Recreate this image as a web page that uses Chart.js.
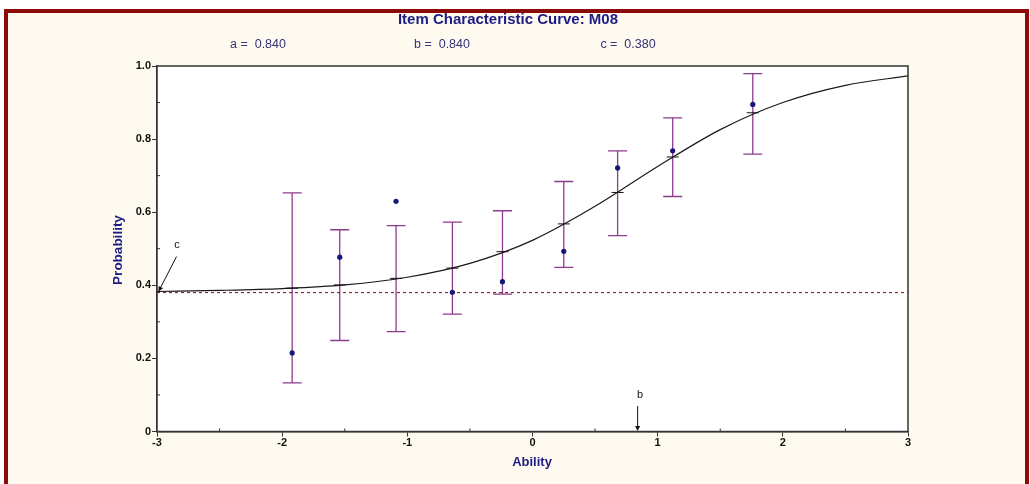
<!DOCTYPE html>
<html>
<head>
<meta charset="utf-8">
<title>Item Characteristic Curve: M08</title>
<script src="https://cdn.jsdelivr.net/npm/chart.js@4.4.1/dist/chart.umd.min.js"></script>
<style>
  html, body { margin: 0; padding: 0; background: #fff; }
  body { width: 1030px; height: 484px; overflow: hidden; position: relative; }
  #frame {
    position: absolute; left: 4px; top: 9px;
    width: 1017px; height: 520px;
    border: 4px solid #8b0a0a;
    background: #fefaef;
  }
  #wrap { position: absolute; left: 0; top: 0; width: 1030px; height: 484px; }
</style>
</head>
<body>
<div id="frame"></div>
<div id="wrap"><canvas id="icc" width="1030" height="484"></canvas></div>
<script>
// Item parameters
const paramLabels = ['a =  0.840', 'b =  0.840', 'c =  0.380'];
const cValue = 0.38;
const bValue = 0.84;

// Ability groups: observed proportion, model value and error bar range
const abilityGroups = [-1.92, -1.54, -1.09, -0.64, -0.24, 0.25, 0.68, 1.12, 1.76];
const observed = [0.215, 0.477, 0.630, 0.381, 0.410, 0.493, 0.721, 0.768, 0.895];
const expected = [0.392, 0.401, 0.419, 0.447, 0.492, 0.568, 0.654, 0.751, 0.872];
const errLow = [0.133, 0.249, 0.273, 0.321, 0.376, 0.449, 0.536, 0.643, 0.759];
const errHigh = [0.653, 0.552, 0.563, 0.573, 0.604, 0.684, 0.768, 0.858, 0.979];

// Characteristic curve
const curveAbility = [-3, -2.5, -2, -1.5, -1, -0.5, 0, 0.5, 1, 1.5, 2, 2.5, 3];
const curveProb = [0.383, 0.386, 0.391, 0.401, 0.422, 0.460, 0.523, 0.616, 0.725, 0.826, 0.900, 0.947, 0.973];

// Axis ticks
const xTicks = [-3, -2, -1, 0, 1, 2, 3];
const yTicks = [0, 0.2, 0.4, 0.6, 0.8, 1.0];

const FONT = '"Liberation Sans", Arial, sans-serif';
const NAVY = '#1c1c84';
const BAR = '#8e3a8e';

// White plot area, box, error bars, small marks and texts
const iccPlugin = {
  id: 'icc',
  beforeDatasetsDraw(chart) {
    const { ctx, chartArea: a, scales: { x, y } } = chart;
    ctx.save();
    ctx.fillStyle = '#ffffff';
    ctx.fillRect(a.left, a.top, a.right - a.left, a.bottom - a.top);

    // error bars
    ctx.strokeStyle = BAR;
    ctx.lineWidth = 1.3;
    abilityGroups.forEach((t, i) => {
      const px = x.getPixelForValue(t);
      const top = y.getPixelForValue(errHigh[i]);
      const bot = y.getPixelForValue(errLow[i]);
      ctx.beginPath();
      ctx.moveTo(px, top); ctx.lineTo(px, bot);
      ctx.moveTo(px - 9.5, top); ctx.lineTo(px + 9.5, top);
      ctx.moveTo(px - 9.5, bot); ctx.lineTo(px + 9.5, bot);
      ctx.stroke();
    });
    ctx.restore();
  },
  afterDatasetsDraw(chart) {
    const { ctx, chartArea: a, scales: { x, y } } = chart;
    ctx.save();
    // model value marks on the curve
    ctx.strokeStyle = '#111';
    ctx.lineWidth = 1;
    abilityGroups.forEach((t, i) => {
      const px = x.getPixelForValue(t);
      const py = y.getPixelForValue(expected[i]);
      ctx.beginPath();
      ctx.moveTo(px - 6, py); ctx.lineTo(px + 6, py);
      ctx.stroke();
    });

    // box
    ctx.strokeStyle = '#333';
    ctx.lineWidth = 1.5;
    ctx.strokeRect(a.left, a.top, a.right - a.left, a.bottom - a.top);

    // minor ticks, inside
    ctx.lineWidth = 1;
    ctx.beginPath();
    for (let v = -2.5; v < 3; v += 1) {
      const px = x.getPixelForValue(v);
      ctx.moveTo(px, a.bottom); ctx.lineTo(px, a.bottom - 3);
    }
    for (let v = 0.1; v < 1; v += 0.2) {
      const py = y.getPixelForValue(v);
      ctx.moveTo(a.left, py); ctx.lineTo(a.left + 3, py);
    }
    ctx.stroke();

    // c annotation
    const cx = x.getPixelForValue(-3), cy = y.getPixelForValue(cValue);
    ctx.strokeStyle = '#111';
    ctx.fillStyle = '#111';
    ctx.beginPath();
    ctx.moveTo(cx + 19.5, cy - 36); ctx.lineTo(cx + 2, cy - 2);
    ctx.stroke();
    arrowHead(ctx, cx + 19.5, cy - 36, cx + 1.5, cy - 1);
    ctx.font = '11px ' + FONT;
    ctx.textAlign = 'center';
    ctx.textBaseline = 'middle';
    ctx.fillText('c', cx + 20, cy - 48);

    // b annotation
    const bx = x.getPixelForValue(bValue), by = y.getPixelForValue(0);
    ctx.beginPath();
    ctx.moveTo(bx, by - 25.5); ctx.lineTo(bx, by - 3);
    ctx.stroke();
    arrowHead(ctx, bx, by - 25.5, bx, by - 0.5);
    ctx.fillText('b', bx + 2.5, by - 36.5);

    // titles
    ctx.fillStyle = NAVY;
    ctx.font = 'bold 15px ' + FONT;
    ctx.fillText('Item Characteristic Curve: M08', 508, 20);
    ctx.font = '12.5px ' + FONT;
    ctx.fillStyle = '#34347a';
    [258, 442, 628].forEach((px, i) => ctx.fillText(paramLabels[i], px, 44.5));
    ctx.fillStyle = NAVY;
    ctx.font = 'bold 13px ' + FONT;
    ctx.fillText('Ability', 532, 462);
    ctx.translate(118, 250);
    ctx.rotate(-Math.PI / 2);
    ctx.font = 'bold 13.5px ' + FONT;
    ctx.fillText('Probability', 0, 0);
    ctx.restore();
  }
};

function arrowHead(ctx, x0, y0, x1, y1) {
  const ang = Math.atan2(y1 - y0, x1 - x0);
  ctx.beginPath();
  ctx.moveTo(x1, y1);
  ctx.lineTo(x1 - 5 * Math.cos(ang) + 2.5 * Math.sin(ang), y1 - 5 * Math.sin(ang) - 2.5 * Math.cos(ang));
  ctx.lineTo(x1 - 5 * Math.cos(ang) - 2.5 * Math.sin(ang), y1 - 5 * Math.sin(ang) + 2.5 * Math.cos(ang));
  ctx.closePath();
  ctx.fill();
}

const ctx = document.getElementById('icc').getContext('2d');
new Chart(ctx, {
  type: 'scatter',
  data: {
    datasets: [
      {
        type: 'line',
        data: curveAbility.map((t, i) => ({ x: t, y: curveProb[i] })),
        borderColor: '#1a1a1a',
        borderWidth: 1.2,
        pointRadius: 0,
        cubicInterpolationMode: 'monotone',
        order: 3,
      },
      {
        type: 'line',
        data: [{ x: -3, y: cValue }, { x: 3, y: cValue }],
        borderColor: '#7a0a0a',
        borderWidth: 1,
        borderDash: [3, 3],
        pointRadius: 0,
        order: 2,
      },
      {
        type: 'scatter',
        data: abilityGroups.map((t, i) => ({ x: t, y: observed[i] })),
        pointRadius: 2.6,
        backgroundColor: '#16167a',
        borderWidth: 0,
        order: 1,
      },
    ],
  },
  options: {
    responsive: false,
    animation: false,
    events: [],
    layout: { padding: { left: 100, top: 66, right: 122, bottom: 0 } },
    plugins: {
      legend: { display: false },
      tooltip: { enabled: false },
    },
    scales: {
      x: {
        type: 'linear',
        min: -3,
        max: 3,
        afterBuildTicks: s => { s.ticks = xTicks.map(v => ({ value: v })); },
        afterFit: s => { s.height = 52.5; },
        ticks: {
          callback: v => String(v),
          color: '#111',
          padding: 0,
          maxRotation: 0,
          font: { family: FONT, size: 11, weight: 'bold' },
        },
        grid: { drawOnChartArea: false, tickLength: 5, color: '#333' },
        border: { color: '#333', width: 1.5 },
      },
      y: {
        min: 0,
        max: 1,
        afterBuildTicks: s => { s.ticks = yTicks.map(v => ({ value: v })); },
        afterFit: s => { s.width = 57; },
        ticks: {
          callback: v => (v === 0 ? '0' : v.toFixed(1)),
          color: '#111',
          padding: 1,
          font: { family: FONT, size: 11, weight: 'bold' },
        },
        grid: { drawOnChartArea: false, tickLength: 5, color: '#333' },
        border: { color: '#333', width: 1.5 },
      },
    },
  },
  plugins: [iccPlugin],
});
</script>
</body>
</html>
